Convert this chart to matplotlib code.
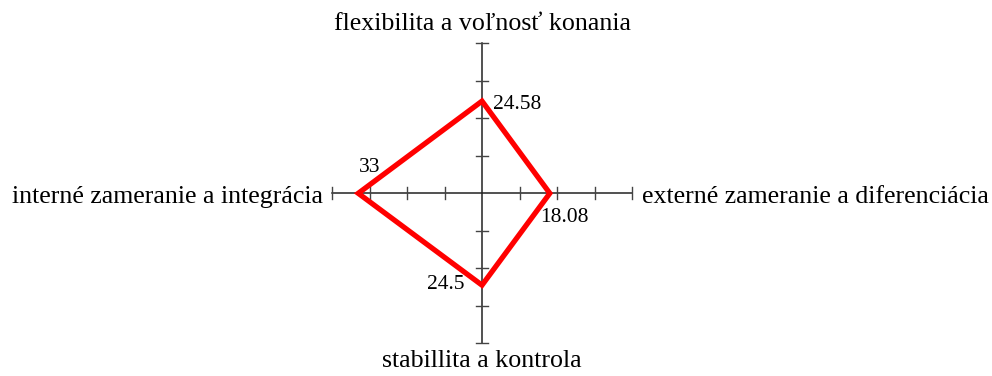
import matplotlib.pyplot as plt

# axis names, clockwise from the top
categories = ['flexibilita a voľnosť konania',
              'externé zameranie a diferenciácia',
              'stabillita a kontrola',
              'interné zameranie a integrácia']
values = [24.58, 18.08, 24.5, 33]
ticks = [10, 20, 30, 40]
axis_max = 40

plt.rcParams['font.family'] = ['Liberation Serif', 'DejaVu Serif']

fig = plt.figure(figsize=(9.92, 3.76), dpi=100)
ax = fig.add_axes([0, 0, 1, 1])
# 150 px per 40 units, centre of the cross at (482, 193) px from top-left
scale = axis_max / 150
ax.set_xlim(-482 * scale, (992 - 482) * scale)
ax.set_ylim(-(376 - 193.3) * scale, 193.3 * scale)
ax.axis('off')

# the cross and its ticks
axis_color = '#222222'
tick_color = '#444444'
half = 6 * scale
ax.plot([-axis_max, axis_max], [0, 0], color=axis_color, lw=1.1, zorder=1)
ax.plot([0, 0], [-axis_max, axis_max], color=axis_color, lw=1.1, zorder=1)
for t in ticks:
    for s in (-1, 1):
        ax.plot([s * t, s * t], [-half, half], color=tick_color, lw=1.0, zorder=1)
        ax.plot([-half, half], [s * t, s * t], color=tick_color, lw=1.0, zorder=1)

# the profile polygon: up, right, down, left
xs = [0, values[1], 0, -values[3]]
ys = [values[0], 0, -values[2], 0]
ax.fill(xs, ys, fill=False, edgecolor='#ff0000', lw=3.8, joinstyle='miter', zorder=3)

# value labels
vfs = 15.5
ax.text(2.9, values[0] - 0.8, f'{values[0]:g}', fontsize=vfs, ha='left', va='center')
ax.text(values[1] + 3.8, -6.4, f'{values[1]:g}', fontsize=vfs, ha='center', va='center')
ax.text(-4.6, -values[2] + 0.3, f'{values[2]:g}', fontsize=vfs, ha='right', va='center')
ax.text(-values[3] + 2.9, 6.9, f'{values[3]:g}', fontsize=vfs, ha='center', va='center')

# axis names
lfs = 18.6
ax.text(0, 43.5, categories[0], fontsize=lfs, ha='center', va='baseline')
ax.text(42.6, -2.6, categories[1], fontsize=lfs, ha='left', va='baseline')
ax.text(0, -46.2, categories[2], fontsize=lfs, ha='center', va='baseline')
ax.text(-42.4, -2.6, categories[3], fontsize=lfs, ha='right', va='baseline')

fig.savefig('out.png', dpi=100)
